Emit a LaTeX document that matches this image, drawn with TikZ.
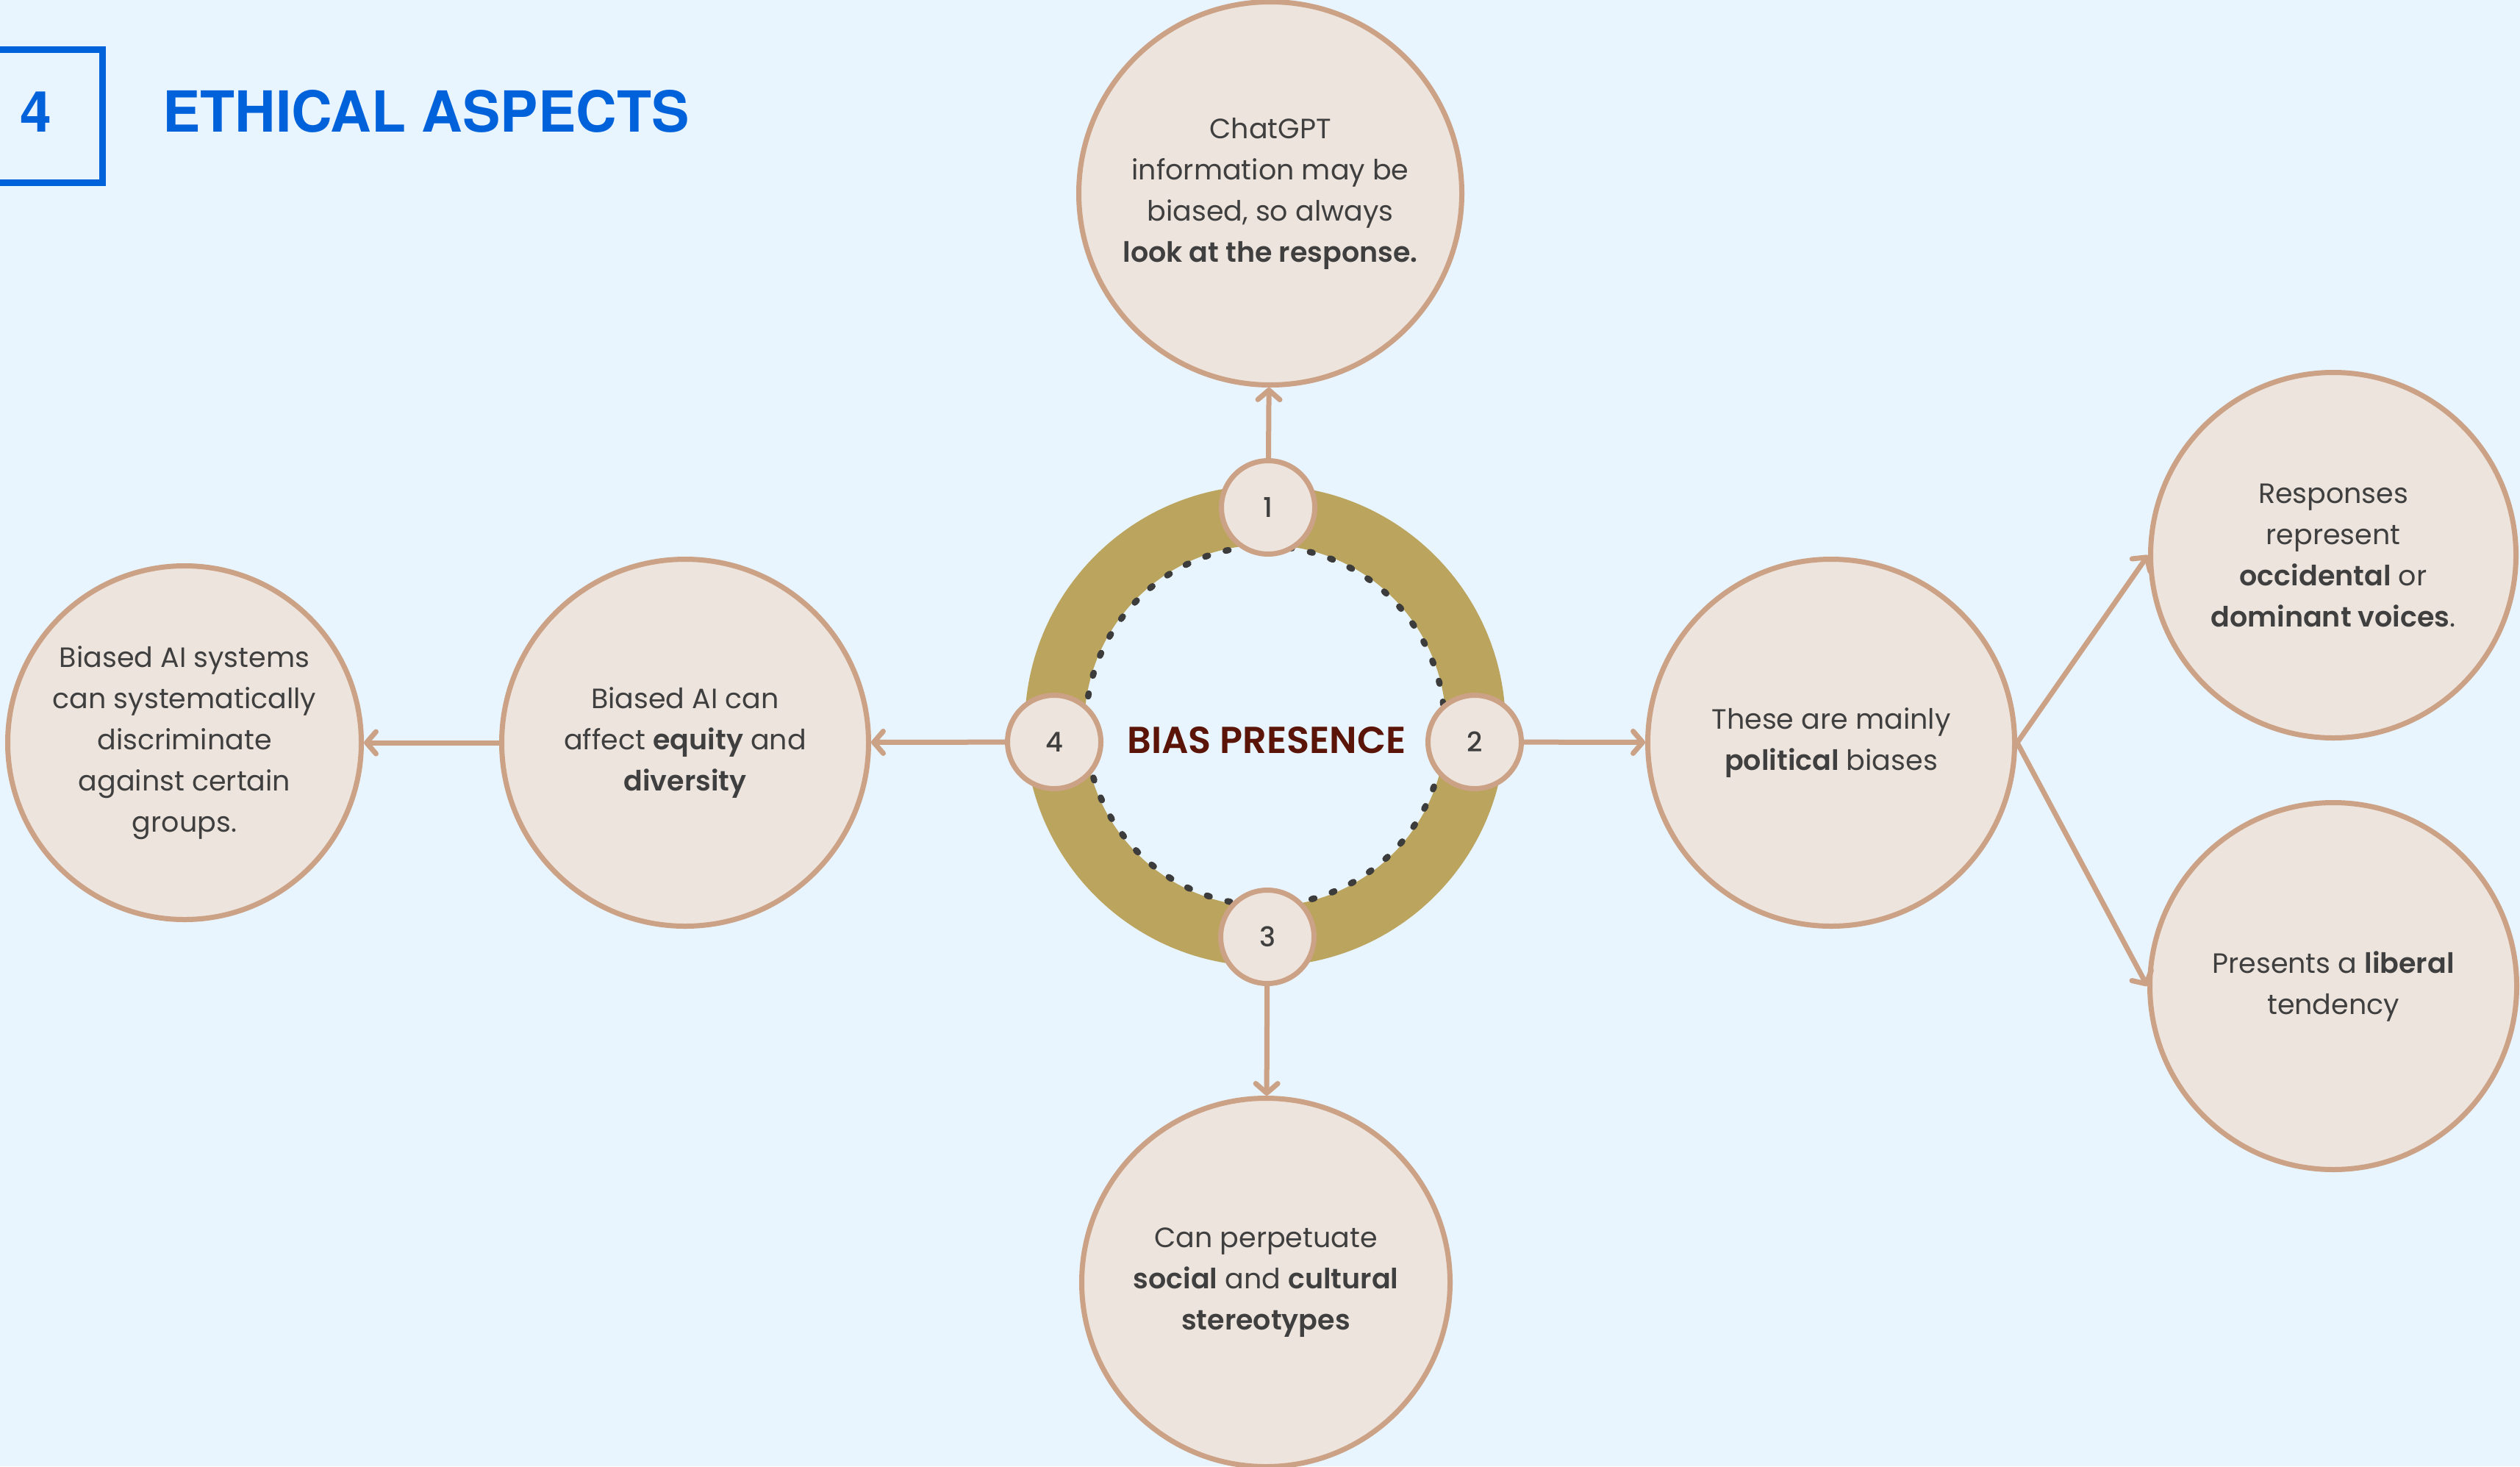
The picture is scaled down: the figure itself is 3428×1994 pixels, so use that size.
\documentclass[tikz,border=0pt]{standalone}
\usepackage{fontspec}
\setmainfont{Poppins}
\IfFontExistsTF{Poppins SemiBold}{\setmainfont{Poppins}[BoldFont={Poppins SemiBold}]}{}
\IfFontExistsTF{Poppins Medium}{\newfontfamily\medfont{Poppins Medium}}{\newfontfamily\medfont{Poppins}}
\IfFontExistsTF{Poppins SemiBold}{\newfontfamily\semifont{Poppins SemiBold}}{\newfontfamily\semifont{Poppins}}
\newfontfamily\titlefont{TeX Gyre Heros}
\usetikzlibrary{arrows.meta}
\definecolor{bgc}{HTML}{E8F4FE}
\definecolor{fillc}{HTML}{EDE4DD}
\definecolor{strokec}{HTML}{CCA286}
\definecolor{ringc}{HTML}{BBA45D}
\definecolor{textc}{HTML}{3F3F3F}
\definecolor{dotc}{HTML}{3C3C3C}
\definecolor{titleblue}{HTML}{0062DB}
\definecolor{biasred}{HTML}{5B1508}
\tikzset{
  bubble/.style={circle, draw=strokec, fill=fillc, line width=7pt, inner sep=0pt,
    align=center, text=textc, font=\fontsize{38}{56}\selectfont},
  numc/.style={circle, draw=strokec, fill=fillc, line width=7pt, minimum size=127pt,
    inner sep=0pt, text=textc, font=\medfont\fontsize{37}{40}\selectfont},
  conn/.style={draw=strokec, line width=7pt,
    -{Straight Barb[length=13pt,width=30pt,round]}}
}
\begin{document}
\begin{tikzpicture}[x=1pt,y=-1pt]
\fill[bgc] (0,0) rectangle (3428,1994);
\useasboundingbox (0,0) rectangle (3428,1994);
% title
\draw[titleblue, line width=9pt] (-20,67.5) -- (139,67.5) -- (139,248.5) -- (-20,248.5);
\node[anchor=base, text=titleblue, font=\titlefont\bfseries\fontsize{77}{80}\selectfont, inner sep=0pt] (num) at (48.5,179) {4};
\node[anchor=base west, text=titleblue, font=\titlefont\bfseries\fontsize{77}{80}\selectfont, inner sep=0pt] (title) at (221,179) {ETHICAL ASPECTS};
% ring
\draw[ringc, line width=81pt] (1721,987) circle (286.5pt);
\draw[dotc, line width=8.5pt, line cap=round, dash pattern=on 4pt off 24.9pt] (1721,987) circle (244pt);
\node[text=biasred, font=\semifont\fontsize{51}{54}\selectfont, inner sep=0pt] (bias) at (1723,1007) {BIAS PRESENCE};
% number circles
\node[numc] (n1) at (1725,690) {1};
\node[numc] (n2) at (2006,1009) {2};
\node[numc] (n3) at (1724,1274) {3};
\node[numc] (n4) at (1434,1009) {4};
% bubbles
\node[bubble, minimum size=521pt] (top) at (1728,263) {ChatGPT\\information may be\\biased, so always\\\textbf{look at the response.}};
\node[bubble, minimum size=481pt] (farleft) at (251,1010) {Biased AI systems\\can systematically\\discriminate\\against certain\\groups.};
\node[bubble, minimum size=499pt] (equity) at (932,1010) {Biased AI can\\affect \textbf{equity} and\\\textbf{diversity}};
\node[bubble, minimum size=499pt] (pol) at (2491,1010) {These are mainly\\\textbf{political} biases};
\node[bubble, minimum size=497pt] (resp) at (3174,755) {Responses\\represent\\\textbf{occidental} or\\\textbf{dominant voices}.};
\node[bubble, minimum size=499pt] (lib) at (3174,1341) {Presents a \textbf{liberal}\\tendency};
\node[bubble, minimum size=501pt] (bottom) at (1722,1744) {Can perpetuate\\\textbf{social} and \textbf{cultural}\\\textbf{stereotypes}};
% connectors
\draw[conn] (n1) -- (top);
\draw[conn] (n3) -- (bottom);
\draw[conn] (n2) -- (pol);
\draw[conn] (n4) -- (equity);
\draw[conn] (equity) -- (farleft);
\draw[conn] (pol.east) -- (resp.west);
\draw[conn] (pol.east) -- (lib.west);
\end{tikzpicture}
\end{document}
